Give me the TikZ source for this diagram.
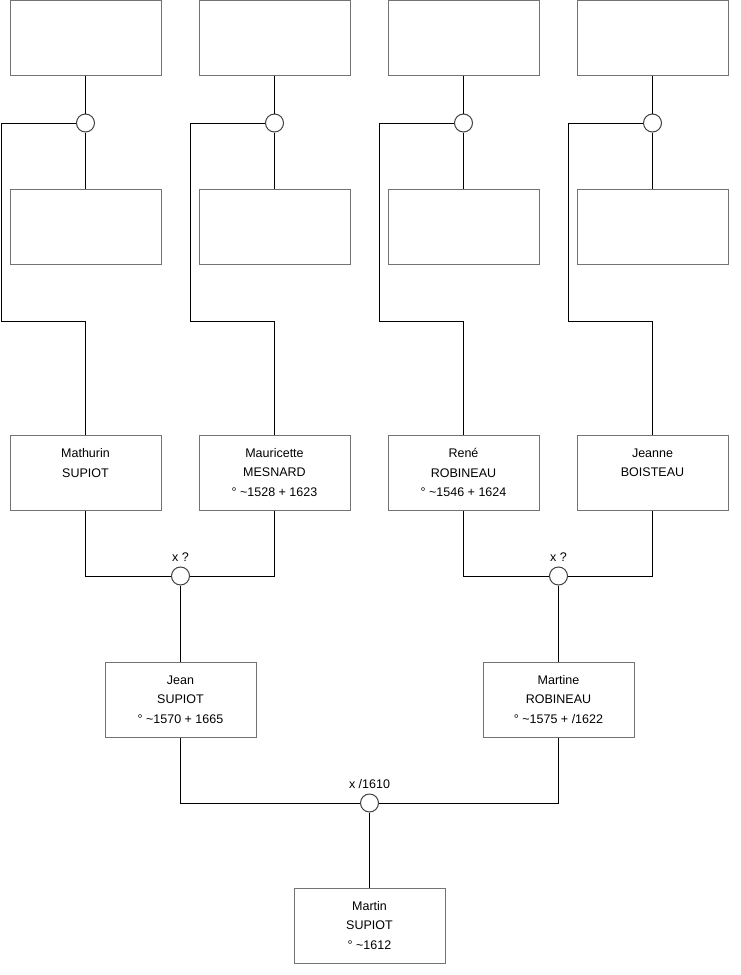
\documentclass[tikz,border=0pt]{standalone}
\usepackage{fontspec}
\setmainfont{Liberation Sans}
\begin{document}
\begin{tikzpicture}[x=1pt, y=-1pt,
  personne/.style={draw=black!55, line width=1pt, minimum width=151pt, minimum height=75pt,
    align=center, inner sep=0pt, font=\fontsize{12.5}{19.5}\selectfont},
  union/.style={circle, draw=black!75, line width=1pt, minimum size=18pt, inner sep=0pt, fill=white},
  mariage/.style={label={[font=\fontsize{12.5}{14}\selectfont, label distance=1pt]above:#1}},
  lien/.style={line width=1pt}]
 \useasboundingbox (0,0) rectangle (740,975);
 % generation des grands-parents
 \node[personne] (mathurin) at (85.5,472.5) {Mathurin\\SUPIOT\\~};
 \node[personne] (mauricette) at (274.5,472.5) {Mauricette\\MESNARD\\° \textasciitilde1528 + 1623};
 \node[personne] (rene) at (463.5,472.5) {René\\ROBINEAU\\° \textasciitilde1546 + 1624};
 \node[personne] (jeanne) at (652.5,472.5) {Jeanne\\BOISTEAU\\~};
 % ascendants inconnus
 \foreach \i/\x/\nom in {1/85.5/mathurin, 2/274.5/mauricette, 3/463.5/rene, 4/652.5/jeanne}{
   \node[personne] (haut\i) at (\x,37.5) {};
   \node[personne] (bas\i) at (\x,227) {};
   \node[union] (u\i) at (\x,123) {};
   \coordinate (coin\i) at (\x-84.5,321);
   \draw[lien] (haut\i) -- (u\i) -- (bas\i);
   \draw[lien] (u\i.west) -| (coin\i) -| (\nom.north);
 }
 % parents
 \node[personne] (jean) at (180.5,699.5) {Jean\\SUPIOT\\° \textasciitilde1570 + 1665};
 \node[personne] (martine) at (558.5,699.5) {Martine\\ROBINEAU\\° \textasciitilde1575 + /1622};
 \node[union, mariage={x ?}] (m1) at (180.5,576) {};
 \node[union, mariage={x ?}] (m2) at (558.5,576) {};
 \draw[lien] (mathurin.south) |- (m1.west);
 \draw[lien] (mauricette.south) |- (m1.east);
 \draw[lien] (m1) -- (jean);
 \draw[lien] (rene.south) |- (m2.west);
 \draw[lien] (jeanne.south) |- (m2.east);
 \draw[lien] (m2) -- (martine);
 % enfant
 \node[personne] (martin) at (369.5,925.5) {Martin\\SUPIOT\\° \textasciitilde1612};
 \node[union, mariage={x /1610}] (m3) at (369.5,803) {};
 \draw[lien] (jean.south) |- (m3.west);
 \draw[lien] (martine.south) |- (m3.east);
 \draw[lien] (m3) -- (martin);
\end{tikzpicture}
\end{document}
